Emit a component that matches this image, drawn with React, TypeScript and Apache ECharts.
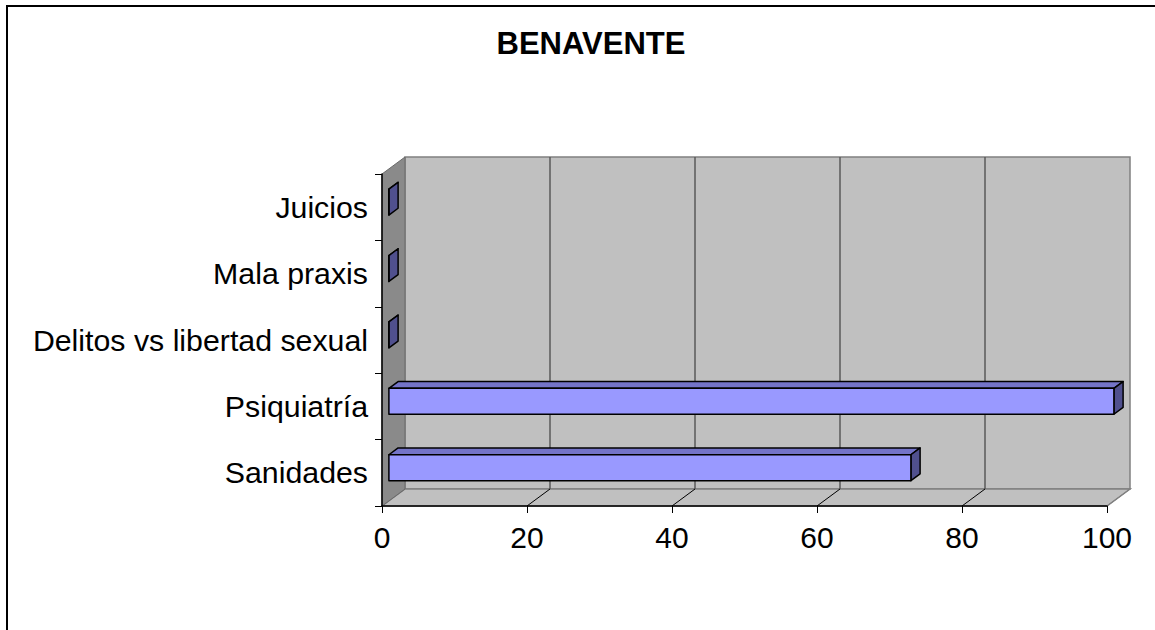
import React, { useEffect, useRef } from "react";
import * as echarts from "echarts";

const categories = ["Sanidades", "Psiquiatría", "Delitos vs libertad sexual", "Mala praxis", "Juicios"];
const values = [72, 100, 0, 0, 0];
const valueTicks = [0, 20, 40, 60, 80, 100];
const chartTitle = "BENAVENTE";

const DX = 23;
const DY = -17;
const F1 = 0.3;
const F2 = 0.7;
const FONT = "'Liberation Sans', Arial, sans-serif";

export default function App() {
  const ref = useRef<HTMLDivElement>(null);
  useEffect(() => {
    if (!ref.current) return;
    const chart = echarts.init(ref.current, undefined, { renderer: "svg" });

    const wallsRender = (params: any, api: any) => {
      const cs = params.coordSys;
      const left = cs.x, top = cs.y, bottom = cs.y + cs.height;
      const right = api.coord([valueTicks[valueTicks.length - 1], 0])[0];
      const x0 = api.coord([valueTicks[0], 0])[0];
      const children: any[] = [];
      children.push({
        type: "polygon",
        shape: { points: [[x0 + DX, top + DY], [right + DX, top + DY], [right + DX, bottom + DY], [x0 + DX, bottom + DY]] },
        style: { fill: "#c0c0c0", stroke: "#808080", lineWidth: 1.5 },
      });
      children.push({
        type: "polygon",
        shape: { points: [[x0, bottom], [x0 + DX, bottom + DY], [right + DX, bottom + DY], [right, bottom]] },
        style: { fill: "#c0c0c0", stroke: "#808080", lineWidth: 1.5 },
      });
      children.push({
        type: "polygon",
        shape: { points: [[left, top], [left + DX, top + DY], [left + DX, bottom + DY], [left, bottom]] },
        style: { fill: "#8a8a8a", stroke: "#6a6a6a", lineWidth: 1 },
      });
      valueTicks.forEach((t, i) => {
        const x = api.coord([t, 0])[0];
        if (i > 0 && i < valueTicks.length - 1) {
          children.push({
            type: "line",
            shape: { x1: x + DX, y1: top + DY, x2: x + DX, y2: bottom + DY },
            style: { stroke: "#5a5a5a", lineWidth: 1.5 },
          });
        }
        if (i > 0) {
          children.push({
            type: "line",
            shape: { x1: x, y1: bottom, x2: x + DX, y2: bottom + DY },
            style: { stroke: i === valueTicks.length - 1 ? "#808080" : "#000", lineWidth: 1 },
          });
        }
      });
      return { type: "group", children };
    };

    const barRender = (params: any, api: any) => {
      const v = api.value(0);
      const ci = api.value(1);
      const base = api.coord([0, ci]);
      const end = api.coord([v, ci]);
      const band = api.size([0, 1])[1];
      const h = band * 0.39;
      const x0 = base[0] + F1 * DX;
      const x1 = end[0] + F1 * DX;
      const yc = base[1] + F1 * DY;
      const t = yc - h / 2;
      const b = yc + h / 2;
      const ddx = (F2 - F1) * DX;
      const ddy = (F2 - F1) * DY;
      const stroke = { stroke: "#000", lineWidth: 1.5, lineJoin: "round" };
      return {
        type: "group",
        children: [
          {
            type: "polygon",
            shape: { points: [[x0, t], [x1, t], [x1 + ddx, t + ddy], [x0 + ddx, t + ddy]] },
            style: { fill: "#7474c8", ...stroke },
          },
          {
            type: "polygon",
            shape: { points: [[x1, t], [x1 + ddx, t + ddy], [x1 + ddx, b + ddy], [x1, b]] },
            style: { fill: "#50508e", ...stroke },
          },
          {
            type: "rect",
            shape: { x: x0, y: t, width: Math.max(x1 - x0, 0), height: h },
            style: { fill: "#9999ff", ...stroke },
          },
        ],
      };
    };

    chart.setOption({
      animation: false,
      backgroundColor: "#ffffff",
      title: {
        text: chartTitle,
        left: 586,
        top: 23,
        textAlign: "center",
        textStyle: { fontFamily: FONT, fontSize: 31, fontWeight: "bold", color: "#000" },
      },
      graphic: [
        {
          type: "rect",
          shape: { x: 7, y: 6, width: 1400, height: 900 },
          style: { fill: "none", stroke: "#000", lineWidth: 2 },
          z: 100,
        },
      ],
      grid: { left: 382, top: 174, width: 725, height: 332, containLabel: false },
      xAxis: {
        type: "value",
        min: 0,
        max: 100,
        interval: 20,
        z: 10,
        axisLine: { show: true, lineStyle: { color: "#000", width: 1.5 } },
        axisTick: { show: true, length: 7, lineStyle: { color: "#000", width: 1 } },
        splitLine: { show: false },
        axisLabel: { fontFamily: FONT, fontSize: 30, color: "#000", margin: 16 },
      },
      yAxis: {
        type: "category",
        data: categories,
        z: 10,
        axisLine: { show: true, lineStyle: { color: "#000", width: 1.5 } },
        axisTick: { show: true, length: 7, lineStyle: { color: "#000", width: 1 } },
        splitLine: { show: false },
        axisLabel: { fontFamily: FONT, fontSize: 30.3, color: "#000", margin: 14, interval: 0 },
      },
      series: [
        {
          type: "custom",
          clip: false,
          silent: true,
          z: 1,
          renderItem: wallsRender,
          data: [[0, 0]],
          encode: { x: 0, y: 1 },
        },
        {
          type: "custom",
          clip: false,
          z: 2,
          renderItem: barRender,
          data: values.map((v, i) => [v, i]),
          encode: { x: 0, y: 1 },
        },
      ],
    });
    return () => chart.dispose();
  }, []);
  return (
    <div
      ref={ref}
      style={{ position: "fixed", left: 0, top: 0, width: 1155, height: 630 }}
    />
  );
}
